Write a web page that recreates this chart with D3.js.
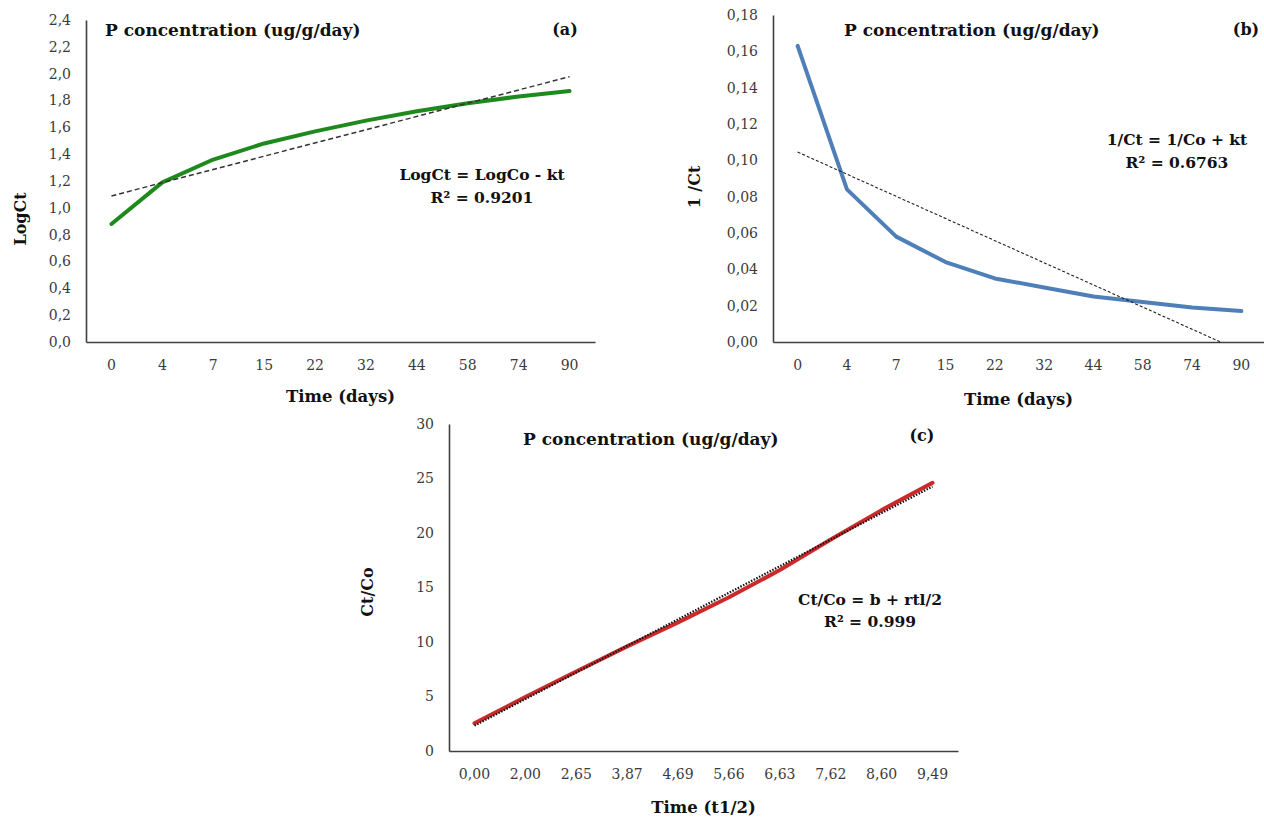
<!DOCTYPE html>
<html>
<head>
<meta charset="utf-8">
<style>
  body { margin: 0; background: #fff; }
  svg { display: block; font-family: "DejaVu Serif", serif; }
  .tick text { font-size: 14px; fill: #3a3a3a; }
  .domain { stroke: #404040; stroke-width: 1.6; }
  .bold { font-weight: bold; fill: #111; }
</style>
</head>
<body>
<svg id="chart" width="1264" height="819"></svg>
<script src="https://cdn.jsdelivr.net/npm/d3@7/dist/d3.min.js"></script>
<script>
// values
const days = ["0", "4", "7", "15", "22", "32", "44", "58", "74", "90"];
const logCt = [0.88, 1.19, 1.36, 1.48, 1.57, 1.65, 1.72, 1.78, 1.83, 1.87];
const invCt = [0.163, 0.084, 0.058, 0.044, 0.035, 0.030, 0.025, 0.022, 0.019, 0.017];
const halfTimes = ["0,00", "2,00", "2,65", "3,87", "4,69", "5,66", "6,63", "7,62", "8,60", "9,49"];
const ctCo = [2.55, 4.95, 7.3, 9.6, 11.8, 14.1, 16.6, 19.4, 22.1, 24.6];

const panelTitle = "P concentration (ug/g/day)";
const letters = ["(a)", "(b)", "(c)"];
const equations = ["LogCt = LogCo - kt", "1/Ct = 1/Co + kt", "Ct/Co = b + rtl/2"];
const rSquared = ["R² = 0.9201", "R² = 0.6763", "R² = 0.999"];
const yTitles = ["LogCt", "1 /Ct", "Ct/Co"];
const xTitles = ["Time (days)", "Time (days)", "Time (t1/2)"];

let locale = d3.formatLocale({decimal: ",", thousands: ".", grouping: [3], currency: ["", ""]})

let svg = d3.select("#chart")

// least squares on the category index, like an Excel linear trendline
function linFit(vals) {
    let n = vals.length
    let mx = (n - 1) / 2
    let my = d3.mean(vals)
    let sxy = d3.sum(vals, (v, i) => (i - mx) * (v - my))
    let sxx = d3.sum(vals, (v, i) => (i - mx) * (i - mx))
    let m = sxy / sxx
    return {m: m, b: my - m * mx}
}

let panels = [
    {cats: days, vals: logCt, yMax: 2.4, step: 0.2, fmt: locale.format(".1f"),
     left: 86, right: 595, top: 20, bottom: 342,
     color: "#1e8a1e", trendDash: "5,3", trendWidth: 1.5, trendColor: "#333",
     titleX: 105, titleY: 36, letterX: 565, letterY: 35,
     eqX: 482, eqY: 180, r2Y: 203, yTitleX: 20, yTitleY: 219, xTitleY: 402},
    {cats: days, vals: invCt, yMax: 0.18, step: 0.02, fmt: locale.format(".2f"),
     left: 773, right: 1266, top: 15, bottom: 342,
     color: "#4f7fb8", trendDash: "3,2", trendWidth: 1.1, trendColor: "#222",
     titleX: 844, titleY: 36, letterX: 1246, letterY: 35,
     eqX: 1177, eqY: 145, r2Y: 168, yTitleX: 694, yTitleY: 187, xTitleY: 405},
    {cats: halfTimes, vals: ctCo, yMax: 30, step: 5, fmt: d3.format("d"),
     left: 449, right: 958, top: 424, bottom: 751,
     color: "#cc2a2a", trendDash: "1.5,1.5", trendWidth: 2.2, trendColor: "#111",
     titleX: 523, titleY: 445, letterX: 922, letterY: 441,
     eqX: 870, eqY: 605, r2Y: 627, yTitleX: 367, yTitleY: 592, xTitleY: 813}
]

panels.forEach((p, k) => {
    let g = svg.append("g")

    let x = d3.scaleBand().domain(p.cats).range([p.left, p.right])
    let y = d3.scaleLinear().domain([0, p.yMax]).range([p.bottom, p.top])
    let xi = i => x(p.cats[0]) + x.bandwidth() / 2 + i * x.step()

    let yTicks = d3.range(0, p.yMax + p.step / 2, p.step)

    g.append("g")
        .attr("transform", `translate(${p.left},0)`)
        .call(d3.axisLeft(y).tickValues(yTicks).tickFormat(p.fmt).tickSize(0).tickPadding(15))

    g.append("g")
        .attr("transform", `translate(0,${p.bottom})`)
        .call(d3.axisBottom(x).tickSize(0).tickPadding(18))

    g.selectAll(".tick text").attr("font-family", "DejaVu Serif")

    // data line
    let line = d3.line()
        .x((d, i) => xi(i))
        .y(d => y(d))

    g.append("path")
        .datum(p.vals)
        .attr("d", line)
        .attr("fill", "none")
        .attr("stroke", p.color)
        .attr("stroke-width", 4)
        .attr("stroke-linecap", "round")
        .attr("stroke-linejoin", "round")

    // trendline, stopped at the x axis if it crosses it
    let fit = linFit(p.vals)
    let endIdx = p.vals.length - 1
    if (fit.m < 0 && -fit.b / fit.m < endIdx) endIdx = -fit.b / fit.m
    g.append("line")
        .attr("x1", xi(0)).attr("y1", y(fit.b))
        .attr("x2", xi(endIdx)).attr("y2", y(fit.b + fit.m * endIdx))
        .attr("stroke", p.trendColor)
        .attr("stroke-width", p.trendWidth)
        .attr("stroke-dasharray", p.trendDash)

    // texts
    g.append("text").attr("class", "bold")
        .attr("x", p.titleX).attr("y", p.titleY)
        .attr("font-size", 17)
        .text(panelTitle)

    g.append("text").attr("class", "bold")
        .attr("x", p.letterX).attr("y", p.letterY)
        .attr("text-anchor", "middle")
        .attr("font-size", 16)
        .text(letters[k])

    g.append("text").attr("class", "bold")
        .attr("x", p.eqX).attr("y", p.eqY)
        .attr("text-anchor", "middle")
        .attr("font-size", 15.5)
        .text(equations[k])

    g.append("text").attr("class", "bold")
        .attr("x", p.eqX).attr("y", p.r2Y)
        .attr("text-anchor", "middle")
        .attr("font-size", 15.5)
        .text(rSquared[k])

    g.append("text").attr("class", "bold")
        .attr("transform", `translate(${p.yTitleX},${p.yTitleY}) rotate(-90)`)
        .attr("text-anchor", "middle")
        .attr("dy", "0.35em")
        .attr("font-size", 16)
        .text(yTitles[k])

    g.append("text").attr("class", "bold")
        .attr("x", (p.left + Math.min(p.right, 1264)) / 2 + (k == 1 ? 0 : 0))
        .attr("y", p.xTitleY)
        .attr("text-anchor", "middle")
        .attr("font-size", 16.5)
        .text(xTitles[k])
})
</script>
</body>
</html>
